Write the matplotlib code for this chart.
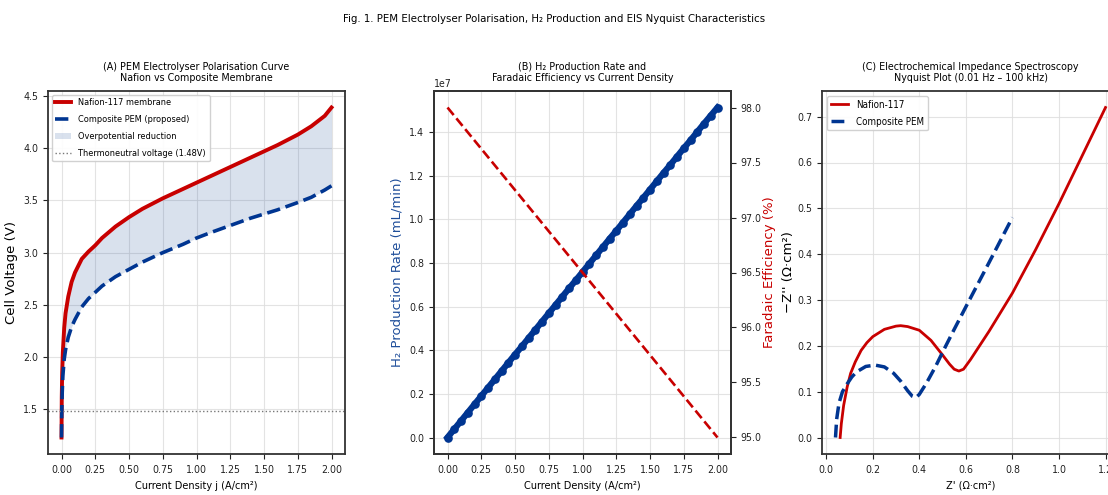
#!/usr/bin/env python3
"""PEM electrolyser polarisation, H2 production and EIS Nyquist panels."""

import matplotlib

matplotlib.use("Agg")
import matplotlib.pyplot as plt  # noqa: E402

RED = "#c80000"
BLUE = "#003591"

# (A) polarisation curves
j_pol = [0.0, 0.002, 0.005, 0.01, 0.02, 0.03, 0.05, 0.075, 0.1, 0.15, 0.2, 0.25,
         0.3, 0.4, 0.5, 0.6, 0.75, 0.9, 1.0, 1.1, 1.25, 1.4, 1.5, 1.6, 1.75,
         1.85, 1.95, 2.0]
v_nafion = [1.23, 1.62, 1.85, 2.05, 2.28, 2.42, 2.58, 2.72, 2.81, 2.94, 3.01, 3.07,
            3.14, 3.25, 3.34, 3.42, 3.52, 3.61, 3.67, 3.73, 3.82, 3.91, 3.97, 4.03,
            4.13, 4.21, 4.31, 4.39]
v_composite = [1.23, 1.48, 1.65, 1.82, 1.98, 2.07, 2.19, 2.29, 2.36, 2.48, 2.56, 2.62,
               2.68, 2.77, 2.84, 2.91, 3.0, 3.08, 3.14, 3.19, 3.26, 3.33, 3.37, 3.41,
               3.48, 3.53, 3.6, 3.64]
v_thermoneutral = 1.48

# (B) H2 production rate and faradaic efficiency
j_h2 = [0.0, 0.05, 0.1, 0.15, 0.2, 0.25, 0.3, 0.35, 0.4, 0.45, 0.5, 0.55, 0.6,
        0.65, 0.7, 0.75, 0.8, 0.85, 0.9, 0.95, 1.0, 1.05, 1.1, 1.15, 1.2, 1.25,
        1.3, 1.35, 1.4, 1.45, 1.5, 1.55, 1.6, 1.65, 1.7, 1.75, 1.8, 1.85, 1.9,
        1.95, 2.0]
h2_rate = [0.0, 0.38e6, 0.76e6, 1.14e6, 1.52e6, 1.9e6, 2.28e6, 2.66e6, 3.04e6,
           3.42e6, 3.8e6, 4.17e6, 4.55e6, 4.93e6, 5.31e6, 5.69e6, 6.07e6, 6.45e6,
           6.83e6, 7.2e6, 7.58e6, 7.96e6, 8.34e6, 8.72e6, 9.1e6, 9.47e6, 9.85e6,
           10.23e6, 10.61e6, 10.98e6, 11.36e6, 11.74e6, 12.12e6, 12.49e6, 12.87e6,
           13.25e6, 13.62e6, 14.0e6, 14.38e6, 14.75e6, 15.12e6]
j_fe = [0.0, 2.0]
faradaic_eff = [98.0, 95.0]

# (C) Nyquist
z_re_nafion = [0.06, 0.065, 0.075, 0.09, 0.105, 0.125, 0.15, 0.175, 0.2, 0.25, 0.3,
               0.32, 0.35, 0.4, 0.45, 0.5, 0.53, 0.55, 0.57, 0.59, 0.62, 0.7, 0.8,
               0.9, 1.0, 1.1, 1.2]
z_im_nafion = [0.0, 0.03, 0.07, 0.11, 0.14, 0.165, 0.19, 0.207, 0.22, 0.236, 0.243,
               0.244, 0.242, 0.234, 0.212, 0.18, 0.16, 0.149, 0.145, 0.149, 0.17,
               0.232, 0.315, 0.41, 0.51, 0.615, 0.72]
z_re_comp = [0.04, 0.045, 0.055, 0.07, 0.09, 0.11, 0.13, 0.17, 0.21, 0.25, 0.29,
             0.32, 0.35, 0.37, 0.385, 0.4, 0.43, 0.47, 0.5, 0.55, 0.6, 0.7, 0.8]
z_im_comp = [0.0, 0.04, 0.075, 0.1, 0.117, 0.132, 0.143, 0.155, 0.158, 0.154, 0.14,
             0.123, 0.102, 0.09, 0.087, 0.094, 0.118, 0.155, 0.186, 0.236, 0.285,
             0.382, 0.48]

plt.rcParams["font.family"] = ["DejaVu Sans"]
plt.rcParams["font.stretch"] = "condensed"
plt.rcParams["axes.edgecolor"] = "#333333"
plt.rcParams["axes.linewidth"] = 1.3
plt.rcParams["xtick.labelsize"] = 7.6
plt.rcParams["ytick.labelsize"] = 7.6
plt.rcParams["xtick.major.pad"] = 4.5
plt.rcParams["xtick.color"] = "#222222"
plt.rcParams["ytick.color"] = "#222222"

# vertical labels keep the normal width
VLABEL = dict(fontsize=9.5, fontstretch="normal")
TITLE = 7.7
XLABEL = 7.8
LEGEND = 6.6


def style(ax):
    ax.grid(True, color="#dddddd", linewidth=0.8, alpha=0.8)
    ax.set_axisbelow(True)


fig = plt.figure(figsize=(11.08, 4.95), dpi=100)
W, H = 1108.0, 495.0


def box(x0, x1, y0, y1):
    return [x0 / W, 1 - y1 / H, (x1 - x0) / W, (y1 - y0) / H]


fig.text(0.5, 1 - 19 / H, "Fig. 1. PEM Electrolyser Polarisation, H₂ Production and EIS "
         "Nyquist Characteristics", ha="center", va="center", fontsize=8.2)

# Panel A
ax1 = fig.add_axes(box(48, 345, 91, 454))
style(ax1)
ax1.fill_between(j_pol, v_composite, v_nafion, color="#1f4e9a", alpha=0.17,
                 linewidth=0, label="Overpotential reduction")
ax1.plot(j_pol, v_nafion, color=RED, linewidth=2.8, label="Nafion-117 membrane")
ax1.plot(j_pol, v_composite, color=BLUE, linewidth=2.6, linestyle="--",
         label="Composite PEM (proposed)")
ax1.axhline(v_thermoneutral, color="#777777", linestyle=":", linewidth=1.0,
            label="Thermoneutral voltage (1.48V)")
handles, labels = ax1.get_legend_handles_labels()
order = [1, 2, 0, 3]
ax1.legend([handles[i] for i in order], [labels[i] for i in order], loc="upper left",
           fontsize=LEGEND, framealpha=0.9, borderaxespad=0.4, labelspacing=0.85,
           handlelength=1.7)
ax1.set_xticks([0, 0.25, 0.5, 0.75, 1.0, 1.25, 1.5, 1.75, 2.0])
ax1.set_xlabel("Current Density j (A/cm²)", fontsize=XLABEL)
ax1.set_ylabel("Cell Voltage (V)", **VLABEL)
ax1.set_title("(A) PEM Electrolyser Polarisation Curve\nNafion vs Composite Membrane",
              fontsize=TITLE, pad=7)

# Panel B
ax2 = fig.add_axes(box(434, 731, 91, 454))
style(ax2)
ax2.plot(j_h2, h2_rate, color=BLUE, linewidth=4.5, marker="o", markersize=5.2)
ax2.set_xticks([0, 0.25, 0.5, 0.75, 1.0, 1.25, 1.5, 1.75, 2.0])
ax2.set_xlabel("Current Density (A/cm²)", fontsize=XLABEL)
ax2.set_ylabel("H₂ Production Rate (mL/min)", color="#1f4e9a", **VLABEL)
ax2.yaxis.get_offset_text().set_fontsize(7.6)
ax2.set_title("(B) H₂ Production Rate and\nFaradaic Efficiency vs Current Density",
              fontsize=TITLE, pad=7)
ax2b = ax2.twinx()
ax2b.plot(j_fe, faradaic_eff, color=RED, linewidth=1.9, linestyle="--")
ax2b.set_ylabel("Faradaic Efficiency (%)", color=RED, labelpad=1, **VLABEL)
ax2b.grid(False)

# Panel C
ax3 = fig.add_axes(box(822, 1119, 91, 454))
style(ax3)
ax3.plot(z_re_nafion, z_im_nafion, color=RED, linewidth=2.0, label="Nafion-117")
ax3.plot(z_re_comp, z_im_comp, color=BLUE, linewidth=2.5, linestyle="--",
         label="Composite PEM")
ax3.legend(loc="upper left", fontsize=LEGEND + 0.4, framealpha=0.9, labelspacing=0.7,
           handlelength=1.8)
ax3.set_xlabel("Z' (Ω·cm²)", fontsize=XLABEL)
ax3.set_ylabel("−Z'' (Ω·cm²)", labelpad=1.5, **VLABEL)
ax3.set_title("(C) Electrochemical Impedance Spectroscopy\nNyquist Plot (0.01 Hz – 100 kHz)",
              fontsize=TITLE, pad=7)

fig.savefig("out.png", dpi=100)
plt.close(fig)
